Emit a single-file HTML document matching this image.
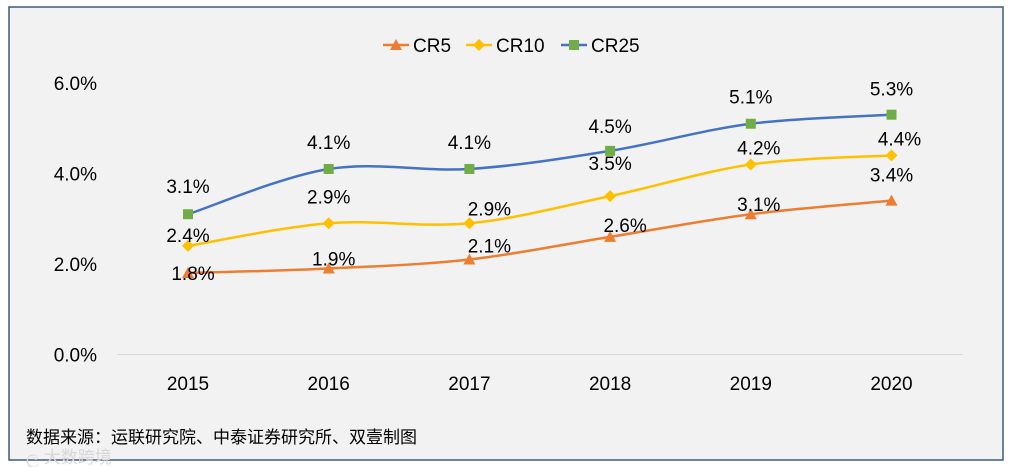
<!DOCTYPE html>
<html><head><meta charset="utf-8"><style>
body{margin:0;background:#fff;}
svg{display:block;font-family:"Liberation Sans","Noto Sans CJK SC",sans-serif;}
</style></head><body>
<svg id="c" width="1010" height="467">
<rect x="9" y="7" width="994" height="453" fill="#f2f2f2" stroke="#3e5a7a" stroke-width="1.5"/>
<g id="legend"></g>
<g id="axes"></g>
<g id="series"></g>
<text x="26" y="443" font-size="17" fill="#000">数据来源：运联研究院、中泰证券研究所、双壹制图</text>
<text x="26" y="463" font-size="17" fill="#d8d8d8">ල 大数跨境</text>
</svg>
<script>
const years=["2015","2016","2017","2018","2019","2020"];
const cr5=[1.8,1.9,2.1,2.6,3.1,3.4];
const cr10=[2.4,2.9,2.9,3.5,4.2,4.4];
const cr25=[3.1,4.1,4.1,4.5,5.1,5.3];
const yTicks=[0,2,4,6];
const seriesNames=["CR5","CR10","CR25"];
const NS="http://www.w3.org/2000/svg";
const svg=document.getElementById('c');
function X(i){return 188+i*140.7;}
function Y(v){return 354.5-v*45.25;}
function mk(t,a,p){const e=document.createElementNS(NS,t);for(const k in a)e.setAttribute(k,a[k]);(p||svg).appendChild(e);return e;}
const axes=document.getElementById('axes');
const grid=mk('line',{x1:117,x2:963,y1:Y(0),y2:Y(0),stroke:'#d9d9d9','stroke-width':1},axes);


yTicks.forEach(v=>{const t=mk('text',{x:97,y:Y(v)+7,'font-size':19,'text-anchor':'end'},axes);t.textContent=v.toFixed(1)+'%';

});
years.forEach((y,i)=>{const t=mk('text',{x:X(i),y:390,'font-size':19,'text-anchor':'middle'},axes);t.textContent=y;

});
function smooth(pts){let d='M'+pts[0][0]+','+pts[0][1];for(let i=0;i<pts.length-1;i++){const p0=pts[i-1]||pts[i],p1=pts[i],p2=pts[i+1],p3=pts[i+2]||p2;const c1=[p1[0]+(p2[0]-p0[0])/6,p1[1]+(p2[1]-p0[1])/6],c2=[p2[0]-(p3[0]-p1[0])/6,p2[1]-(p3[1]-p1[1])/6];d+=' C'+c1+' '+c2+' '+p2;}return d;}
function marker(g,type,x,y,col){let e;
if(type==='tri')e=mk('polygon',{points:`${x-6},${y+5} ${x+6},${y+5} ${x},${y-6}`,fill:col},g);
else if(type==='dia')e=mk('polygon',{points:`${x-6},${y} ${x},${y-6} ${x+6},${y} ${x},${y+6}`,fill:col},g);
else e=mk('rect',{x:x-5,y:y-5,width:10,height:10,fill:col},g);return e;}
const cfg=[
 {data:cr5,line:'#ed7d31',mk:'tri',mcol:'#ed7d31',lx:[5,5,20,15,8,0],ly:[0,-10,-14,-12,-10,-26]},
 {data:cr10,line:'#ffc000',mk:'dia',mcol:'#ffc000',lx:[0,0,20,0,8,8],ly:[-11,-27,-15,-33,-17,-17]},
 {data:cr25,line:'#4472c4',mk:'sq',mcol:'#70ad47',lx:[0,0,0,0,0,0],ly:[-28,-27,-27,-25,-27,-26]}];
const sg=document.getElementById('series');
cfg.forEach((c,si)=>{const g=mk('g',{},sg);


const pts=c.data.map((v,i)=>[X(i),Y(v)]);
mk('path',{d:smooth(pts),fill:'none',stroke:c.line,'stroke-width':2.5},g);
pts.forEach((p,i)=>{const m=marker(g,c.mk,p[0],p[1],c.mcol);


const t=mk('text',{x:p[0]+c.lx[i],y:p[1]+c.ly[i]+7,'font-size':19,'text-anchor':'middle'},g);t.textContent=c.data[i].toFixed(1)+'%';

});});
const lg=document.getElementById('legend');
const lx=[383,466,561];
cfg.forEach((c,i)=>{const g=mk('g',{},lg);


mk('line',{x1:lx[i],x2:lx[i]+26,y1:45,y2:45,stroke:c.line,'stroke-width':2.5},g);
marker(g,c.mk,lx[i]+13,45,c.mcol);
const t=mk('text',{x:lx[i]+30,y:52,'font-size':19},g);t.textContent=seriesNames[i];});
</script>
</body></html>
